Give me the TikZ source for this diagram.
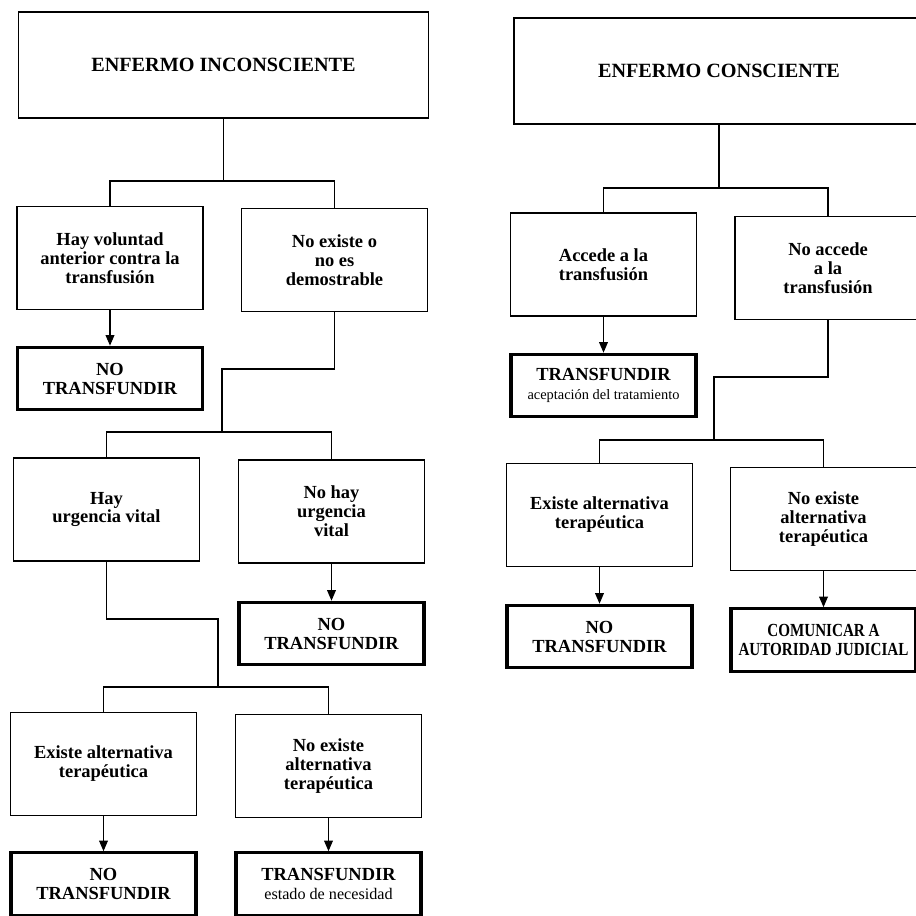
\documentclass[tikz,border=0pt]{standalone}
\usepackage{fontspec}
\setmainfont{Liberation Serif}
\newfontfamily\narrowserif[FakeStretch=0.82]{Liberation Serif}
\usetikzlibrary{arrows.meta,positioning,calc}

\begin{document}
\begin{tikzpicture}[
  x=0.02cm, y=-0.02cm,
  every node/.style={font=\bfseries\fontsize{10.5}{10.8}\selectfont},
  head/.style={draw,line width=0.8pt,minimum width=8.2cm,minimum height=2.12cm,
               align=center,inner sep=0pt,font=\bfseries\fontsize{11.5}{12}\selectfont},
  question/.style={draw,line width=0.8pt,minimum width=3.72cm,minimum height=2.06cm,
                   align=center,inner sep=0pt},
  result/.style={draw,line width=1.8pt,minimum width=3.7cm,minimum height=1.25cm,
                 align=center,inner sep=0pt},
  link/.style={line width=0.6pt},
  arrow/.style={line width=0.6pt,-{Triangle[length=6pt,width=5pt]}},
]
  \useasboundingbox (0,0) rectangle (916,916);

  % Enfermo inconsciente
  \node[head] (inc) at (223.5, 65) {ENFERMO INCONSCIENTE};

  \node[question] (vol)  at (110, 258)   {Hay voluntad\\anterior contra la\\transfusión};
  \node[question] (noex) at (334.5, 260) {No existe o\\no es\\demostrable};
  \coordinate (b1) at (223.5, 181);
  \draw[link] (inc.south) -- (b1);
  \draw[link] (vol.north) |- (b1) -| (noex.north);

  \node[result] (nt1) at (110, 378.5) {NO\\TRANSFUNDIR};
  \draw[arrow] (vol.south) -- (nt1.north);

  \node[question] (urg)   at (106.5, 509.5) {Hay\\urgencia vital};
  \node[question] (nourg) at (331.5, 511.5) {No hay\\urgencia\\vital};
  \coordinate (k1) at (222, 369);
  \coordinate (b2) at (222, 432);
  \draw[link] (noex.south) |- (k1) -- (b2);
  \draw[link] (urg.north) |- (b2) -| (nourg.north);

  \node[result] (nt2) at (331.5, 633.5) {NO\\TRANSFUNDIR};
  \draw[arrow] (nourg.south) -- (nt2.north);

  \node[question] (alt1)   at (103.5, 764) {Existe alternativa\\terapéutica};
  \node[question] (noalt1) at (328.5, 766) {No existe\\alternativa\\terapéutica};
  \coordinate (k2) at (218, 619);
  \coordinate (b3) at (218, 687);
  \draw[link] (urg.south) |- (k2) -- (b3);
  \draw[link] (alt1.north) |- (b3) -| (noalt1.north);

  \node[result] (nt3) at (103.5, 884) {NO\\TRANSFUNDIR};
  \node[result] (tr2) at (328.5, 884) {TRANSFUNDIR\\{\normalfont\fontsize{9.2}{10}\selectfont estado de necesidad}};
  \draw[arrow] (alt1.south) -- (nt3.north);
  \draw[arrow] (noalt1.south) -- (tr2.north);

  % Enfermo consciente
  \node[head] (con) at (719, 71) {ENFERMO CONSCIENTE};

  \node[question] (acc)   at (603.5, 264.5) {Accede a la\\transfusión};
  \node[question] (noacc) at (828, 268)     {No accede\\a la\\transfusión};
  \coordinate (b4) at (719, 188);
  \draw[link] (con.south) -- (b4);
  \draw[link] (acc.north) |- (b4) -| (noacc.north);

  \node[result] (tr1) at (603.5, 385.5) {TRANSFUNDIR\\{\normalfont\fontsize{8.2}{9}\selectfont aceptación del tratamiento}};
  \draw[arrow] (acc.south) -- (tr1.north);

  \node[question] (alt2)   at (599.5, 515) {Existe alternativa\\terapéutica};
  \node[question] (noalt2) at (823.5, 519) {No existe\\alternativa\\terapéutica};
  \coordinate (k3) at (714, 377);
  \coordinate (b5) at (714, 440);
  \draw[link] (noacc.south) |- (k3) -- (b5);
  \draw[link] (alt2.north) |- (b5) -| (noalt2.north);

  \node[result] (nt4) at (599.5, 636.5) {NO\\TRANSFUNDIR};
  \node[result,font=\narrowserif\bfseries\fontsize{10.5}{10.8}\selectfont] (com) at (823.5, 640) {COMUNICAR A\\AUTORIDAD JUDICIAL};
  \draw[arrow] (alt2.south) -- (nt4.north);
  \draw[arrow] (noalt2.south) -- (com.north);
\end{tikzpicture}
\end{document}
